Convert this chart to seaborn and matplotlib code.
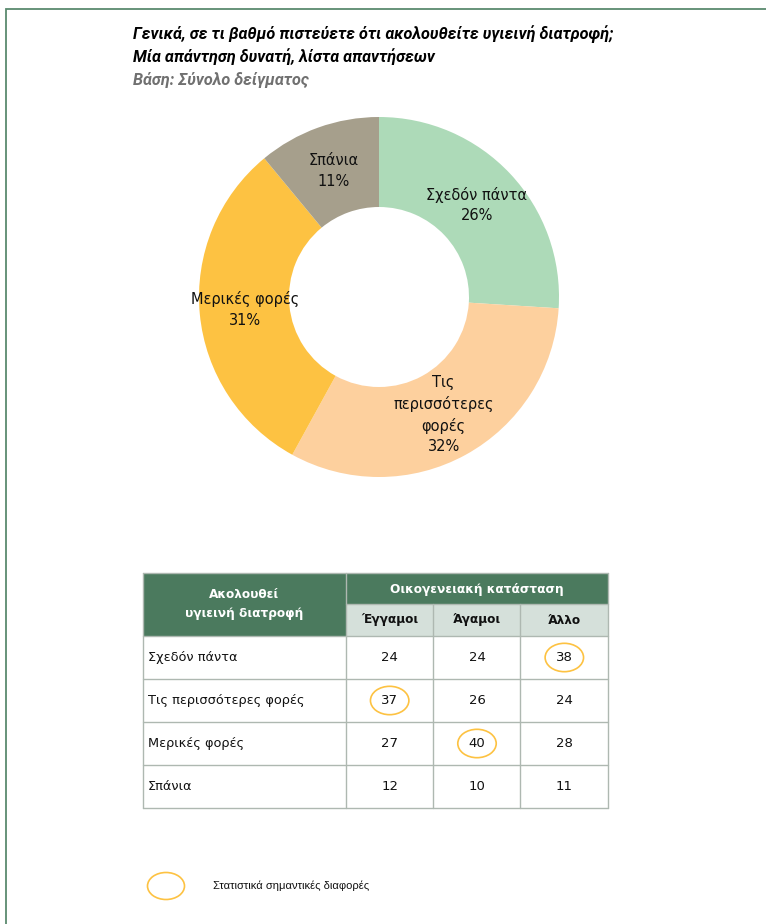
import numpy as np
import pandas as pd
import matplotlib.pyplot as plt
import seaborn as sns
from matplotlib.patches import Rectangle, Ellipse
from matplotlib.colors import ListedColormap

# Pie data
pie_labels = ['Σχεδόν πάντα', 'Τις\nπερισσότερες\nφορές', 'Μερικές φορές', 'Σπάνια']
pie_values = [26, 32, 31, 11]
pie_colors = ['#ADDAB8', '#FDD09E', '#FDC242', '#A69F8C']

# Table data
row_labels = ['Σχεδόν πάντα', 'Τις περισσότερες φορές', 'Μερικές φορές', 'Σπάνια']
col_labels = ['Έγγαμοι', 'Άγαμοι', 'Άλλο']
married = [24, 37, 27, 12]
single = [24, 26, 40, 10]
other = [38, 24, 28, 11]
# significant cells as (row, col)
significant = [(0, 2), (1, 0), (2, 1)]

title_lines = ['Γενικά, σε τι βαθμό πιστεύετε ότι ακολουθείτε υγιεινή διατροφή;',
               'Μία απάντηση δυνατή, λίστα απαντήσεων']
base_text = 'Βάση: Σύνολο δείγματος'
legend_text = 'Στατιστικά σημαντικές διαφορές'

W, H = 766, 924
DARK = '#4B7A5E'
LIGHT = '#D5E0DA'
GRID = '#AEB8B1'
RING = '#FDC242'

sns.set_theme(style='white')
plt.rcParams['font.family'] = ['DejaVu Sans']

fig = plt.figure(figsize=(W / 100, H / 100), dpi=100)


def frac(x0, y0, x1, y1):
    return [x0 / W, 1 - y1 / H, (x1 - x0) / W, (y1 - y0) / H]


# Donut chart
ax_pie = fig.add_axes(frac(199, 117, 559, 477))
ax_pie.pie(pie_values, colors=pie_colors, startangle=90, counterclock=False,
           radius=1.0, wedgeprops=dict(width=0.5, edgecolor='none'))
total = sum(pie_values)
start = 90.0
for lab, val in zip(pie_labels, pie_values):
    mid = np.deg2rad(start - val / total * 180)
    start -= val / total * 360
    ax_pie.text(0.745 * np.cos(mid), 0.745 * np.sin(mid), f'{lab}\n{val}%',
                ha='center', va='center', fontsize=10.5, linespacing=1.45, color='#111111')
ax_pie.set_xlim(-1, 1)
ax_pie.set_ylim(-1, 1)
ax_pie.set_aspect('equal')
ax_pie.axis('off')

# Table numeric block as a heatmap
tbl = pd.DataFrame({c: v for c, v in zip(col_labels, [married, single, other])}, index=row_labels)
ax_hm = fig.add_axes(frac(346, 636, 608, 808))
sns.heatmap(tbl, ax=ax_hm, cmap=ListedColormap(['white']), cbar=False, annot=True, fmt='d',
            annot_kws=dict(fontsize=9.5, color='#111111'), linewidths=0,
            xticklabels=False, yticklabels=False)
for r, c in significant:
    ax_hm.add_patch(Ellipse((c + 0.5, r + 0.5), 0.44, 0.66, fill=False, edgecolor=RING, lw=1.2))
ax_hm.axis('off')

# Overlay in pixel coordinates
ax = fig.add_axes([0, 0, 1, 1], facecolor='none')
ax.set_xlim(0, W)
ax.set_ylim(H, 0)
ax.axis('off')

# frame
ax.plot([6, 6, W], [H, 9, 9], color='#5A8A6E', lw=1.3, solid_joinstyle='miter')

# titles
narrow = ['Liberation Sans Narrow', 'Roboto', 'DejaVu Sans']
for i, line in enumerate(title_lines):
    ax.text(133, 34 + 23 * i, line, fontsize=11.7, fontweight='bold', fontstyle='italic',
            family=narrow, va='center', ha='left', color='black')
ax.text(133, 80, base_text, fontsize=11.7, fontweight='bold', fontstyle='italic',
        family=narrow, va='center', ha='left', color='#707070')

# table header
xs = [143, 346, 433, 520, 608]
ys = [636, 679, 722, 765, 808]
ax.add_patch(Rectangle((143, 573), 608 - 143, 31, facecolor=DARK, edgecolor='none'))
ax.add_patch(Rectangle((143, 604), 346 - 143, 32, facecolor=DARK, edgecolor='none'))
ax.add_patch(Rectangle((346, 604), 608 - 346, 32, facecolor=LIGHT, edgecolor='none'))
ax.text(244, 604, 'Ακολουθεί\nυγιεινή διατροφή', color='white', fontsize=8.7, fontweight='bold',
        ha='center', va='center', linespacing=1.6)
ax.text(477, 589, 'Οικογενειακή κατάσταση', color='white', fontsize=8.7, fontweight='bold',
        ha='center', va='center')
for i, c in enumerate(col_labels):
    ax.text((xs[i + 1] + xs[i + 2]) / 2, 620, c, fontsize=8.7, fontweight='bold',
            ha='center', va='center', color='#111111')
for i, r in enumerate(row_labels):
    ax.text(148, (ys[i] + ys[i + 1]) / 2, r, fontsize=9.3, ha='left', va='center', color='#111111')

# grid lines
ax.plot([346, 346], [573, 808], color=GRID, lw=1)
for x in xs[2:4]:
    ax.plot([x, x], [604, 808], color=GRID, lw=1)
ax.plot([346, 608], [604, 604], color=GRID, lw=1)
for y in ys:
    ax.plot([143, 608], [y, y], color=GRID, lw=1)
ax.plot([143, 143], [573, 808], color=GRID, lw=1)
ax.plot([608, 608], [573, 808], color=GRID, lw=1)
ax.plot([143, 608], [573, 573], color=GRID, lw=1)

# legend
ax.add_patch(Ellipse((166, 886), 37, 27, fill=False, edgecolor=RING, lw=1.2))
ax.text(213, 886, legend_text, fontsize=8.0, family=['Liberation Sans', 'DejaVu Sans'],
        ha='left', va='center', color='#111111')

fig.savefig('out.png', dpi=100)
